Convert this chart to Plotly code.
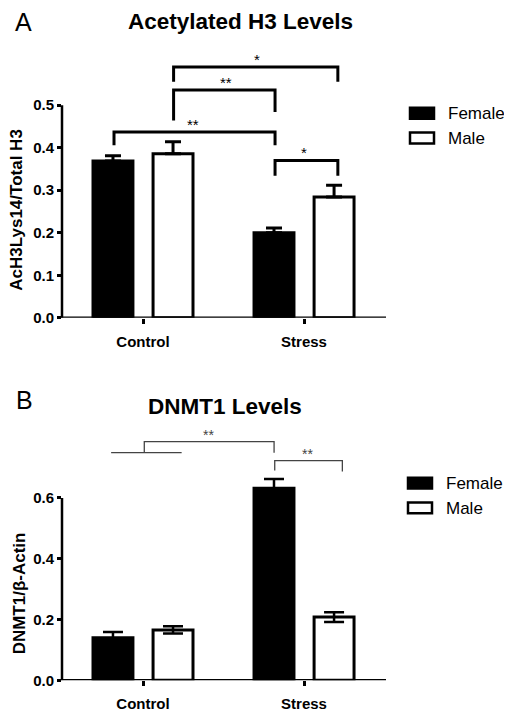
import plotly.graph_objects as go

# ---------------- data ----------------
categories = ["Control", "Stress"]
series_names = ["Female", "Male"]

# Panel A: Acetylated H3
a_female = [0.369, 0.200]
a_female_err = [0.012, 0.011]
a_male = [0.386, 0.284]
a_male_err = [0.028, 0.028]
a_yticks = [0.0, 0.1, 0.2, 0.3, 0.4, 0.5]

# Panel B: DNMT1
b_female = [0.140, 0.632]
b_female_err = [0.019, 0.030]
b_male = [0.166, 0.208]
b_male_err = [0.012, 0.016]
b_yticks = [0.0, 0.2, 0.4, 0.6]

# significance brackets (x in category units, y in data units)
a_brackets = [
    {"x": [0.19, 0.19, 1.21, 1.21], "y": [0.555, 0.590, 0.590, 0.555], "label": "*"},
    {"x": [0.19, 0.19, 0.82, 0.82], "y": [0.464, 0.536, 0.536, 0.484], "label": "**"},
    {"x": [-0.18, -0.18, 0.82, 0.82], "y": [0.406, 0.437, 0.437, 0.406], "label": "**"},
    {"x": [0.82, 0.82, 1.21, 1.21], "y": [0.334, 0.370, 0.370, 0.334], "label": "*"},
]
a_star_x = [0.705, 0.515, 0.31, 1.0]

b_brackets = [
    {"x": [0.008, 0.008, 0.814, 0.814], "y": [0.749, 0.785, 0.785, 0.749], "label": "**"},
    {"x": [0.818, 0.818, 1.238, 1.238], "y": [0.690, 0.723, 0.723, 0.687], "label": "**"},
]
b_star_x = [0.405, 1.02]
b_base_line = {"x": [-0.198, 0.24], "y": [0.749, 0.749]}

xpos = list(range(len(categories)))
FONT = "Liberation Sans, Arial, sans-serif"

fig = go.Figure()

def add_panel(xa, ya, fem, fem_err, mal, mal_err, symmetric, capw, thick):
    fig.add_trace(go.Bar(
        x=xpos, y=fem, name=series_names[0], xaxis=xa, yaxis=ya,
        marker=dict(color="black", line=dict(color="black", width=3)),
        error_y=dict(type="data", array=fem_err,
                     arrayminus=fem_err if symmetric else [0] * len(fem_err),
                     symmetric=symmetric, color="black", thickness=thick, width=capw),
        offsetgroup="f", showlegend=False))
    fig.add_trace(go.Bar(
        x=xpos, y=mal, name=series_names[1], xaxis=xa, yaxis=ya,
        marker=dict(color="white", line=dict(color="black", width=3)),
        error_y=dict(type="data", array=mal_err,
                     arrayminus=mal_err if symmetric else [0] * len(mal_err),
                     symmetric=symmetric, color="black", thickness=thick, width=capw),
        offsetgroup="m", showlegend=False))

add_panel("x", "y", a_female, a_female_err, a_male, a_male_err, False, 8, 3)
add_panel("x2", "y2", b_female, b_female_err, b_male, b_male_err, True, 10, 2.5)

# page body has an 8px margin: the figure is drawn 8px right and down
OX, OY = 8, 8
W, H = 512 - OX, 720 - OY

def px(xp, yp):
    return (xp - OX) / W, 1 - (yp - OY) / H

xdom = [px(62, 0)[0], px(386, 0)[0]]
xrange_ = [-0.503, 1.509]

a_rng = [0, 0.62]
b_rng = [0, 0.80]
a_dom = [px(0, 321.3)[1], px(0, 321.3 - 0.62 * 430)[1]]
b_dom = [px(0, 688)[1], px(0, 688 - 0.80 * 307.5)[1]]

tickfont = dict(family=FONT, size=15, color="black")
common_x = dict(range=xrange_, domain=xdom, tickvals=xpos,
                ticktext=["<b>%s</b>" % c for c in categories],
                ticks="outside", ticklen=5, tickwidth=2.5, tickcolor="black",
                ticklabelstandoff=5,
                showline=False, showgrid=False, zeroline=False, tickfont=tickfont)
fig.update_layout(
    xaxis=dict(**common_x, anchor="y"),
    xaxis2=dict(**common_x, anchor="y2"),
    yaxis=dict(range=a_rng, domain=a_dom, anchor="x", tickvals=a_yticks,
               ticktext=["<b>%.1f</b>" % v for v in a_yticks],
               ticks="outside", ticklen=4, tickwidth=2.5, tickcolor="black",
               showline=False, showgrid=False, zeroline=False, tickfont=tickfont),
    yaxis2=dict(range=b_rng, domain=b_dom, anchor="x2", tickvals=b_yticks,
                ticktext=["<b>%.1f</b>" % v for v in b_yticks],
                ticks="outside", ticklen=4, tickwidth=2.5, tickcolor="black",
                showline=False, showgrid=False, zeroline=False, tickfont=tickfont),
    barmode="group", bargap=0.254, bargroupgap=0.335,
    width=W, height=H, margin=dict(l=0, r=0, t=0, b=0),
    plot_bgcolor="white", paper_bgcolor="white",
)

shapes = []
annots = []

# axis lines
for xr, yr, top in [("x", "y", a_yticks[-1]), ("x2", "y2", b_yticks[-1])]:
    shapes.append(dict(type="line", xref=xr + " domain", yref=yr, x0=0, x1=0, y0=0, y1=top,
                       line=dict(color="black", width=2.5), layer="above"))
    shapes.append(dict(type="line", xref=xr + " domain", yref=yr, x0=-0.012, x1=1, y0=0, y1=0,
                       line=dict(color="black", width=2.5), layer="above"))

def path_of(xs, ys):
    return "M " + " L ".join("%g,%g" % (a, b) for a, b in zip(xs, ys))

for br, sx in zip(a_brackets, a_star_x):
    shapes.append(dict(type="path", xref="x", yref="y", path=path_of(br["x"], br["y"]),
                       line=dict(color="black", width=3)))
    annots.append(dict(xref="x", yref="y", x=sx, y=max(br["y"]), text=br["label"],
                       showarrow=False, yanchor="bottom", yshift=-3,
                       font=dict(family=FONT, size=15, color="black")))

shapes.append(dict(type="path", xref="x2", yref="y2",
                   path=path_of(b_base_line["x"], b_base_line["y"]),
                   line=dict(color="#444", width=1.3)))
for br, sx in zip(b_brackets, b_star_x):
    shapes.append(dict(type="path", xref="x2", yref="y2", path=path_of(br["x"], br["y"]),
                       line=dict(color="#444", width=1.3)))
    annots.append(dict(xref="x2", yref="y2", x=sx, y=max(br["y"]), text=br["label"],
                       showarrow=False, yanchor="bottom", yshift=-3,
                       font=dict(family=FONT, size=14, color="#444")))

# titles and panel letters
for letter, (lx, ly) in [("A", (23, 22)), ("B", (24, 404))]:
    x, y = px(lx, ly)
    annots.append(dict(xref="paper", yref="paper", x=x, y=y, text=letter, showarrow=False,
                       xanchor="center", yanchor="middle",
                       font=dict(family=FONT, size=25, color="black")))
for title, (tx, ty) in [("Acetylated H3 Levels", (240, 22)), ("DNMT1 Levels", (225, 411))]:
    x, y = px(tx, ty)
    annots.append(dict(xref="paper", yref="paper", x=x, y=y, text="<b>%s</b>" % title,
                       showarrow=False, xanchor="center", yanchor="middle",
                       font=dict(family=FONT, size=22.5, color="black")))
for ytitle, (tx, ty) in [("AcH3Lys14/Total H3", (17, 212)), ("DNMT1/β-Actin", (19, 600))]:
    x, y = px(tx, ty)
    annots.append(dict(xref="paper", yref="paper", x=x, y=y, text="<b>%s</b>" % ytitle,
                       showarrow=False, xanchor="center", yanchor="middle", textangle=-90,
                       font=dict(family=FONT, size=17, color="black")))

# legends
for (fy, my), lx in [((108, 133), 409), ((482, 507), 407)]:
    for name, ytop, fill in [(series_names[0], fy, "black"), (series_names[1], my, "white")]:
        x0, y1 = px(lx + 1, ytop + 1)
        x1, y0 = px(lx + 25, ytop + 12)
        shapes.append(dict(type="rect", xref="paper", yref="paper", x0=x0, x1=x1, y0=y0, y1=y1,
                           fillcolor=fill, line=dict(color="black", width=2.5)))
        tx, ty = px(lx + 37, ytop + 7)
        annots.append(dict(xref="paper", yref="paper", x=tx, y=ty, text=name, showarrow=False,
                           xanchor="left", yanchor="middle",
                           font=dict(family=FONT, size=17, color="black")))

fig.update_layout(shapes=shapes, annotations=annots)
fig.write_html("out.html")
